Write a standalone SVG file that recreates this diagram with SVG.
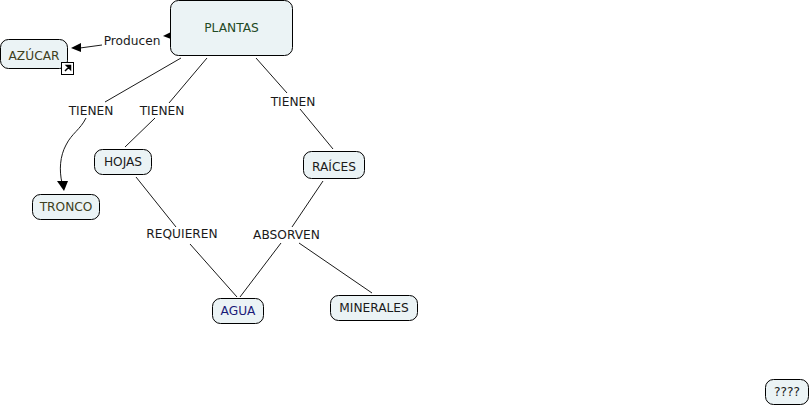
<svg xmlns="http://www.w3.org/2000/svg" width="810" height="407" viewBox="0 0 810 407">
<style>
text{font-family:"DejaVu Sans",Verdana,sans-serif;font-size:12.200px;text-anchor:middle;fill:#1a1a1a}
.n{fill:#ebf3f5;stroke:#000;stroke-width:1}
.c{fill:none;stroke:#1a1a1a;stroke-width:1}
.h{fill:#000;stroke:none}
</style>
<rect width="810" height="407" fill="#fff"/>
<g id="connectors">
<path class="c" d="M181 58L105 102"/>
<path class="c" d="M207 58L169 103"/>
<path class="c" d="M256 58L287 93"/>
<path class="c" d="M86 118C80 130 72 133 66 145C60 156 59 170 62 183"/>
<path class="c" d="M155 118L125 147"/>
<path class="c" d="M136 177L176 227"/>
<path class="c" d="M190 244L237 297"/>
<path class="c" d="M300 109L333 149"/>
<path class="c" d="M323 181L292 227"/>
<path class="c" d="M281 243L240 297"/>
<path class="c" d="M299 243L372 293"/>
<path class="c" d="M102 45L80 48"/>
<polygon class="h" points="71,48 81,43 81,52"/>
<polygon class="h" points="163,36 171,32 171,39"/>
<polygon class="h" points="64,191 57,181 68,181"/>
</g>
<g id="plantas"><rect class="n" x="170.500" y="0.500" width="122" height="55" rx="8"/><text x="231.500" y="32" style="fill:#1f4a24">PLANTAS</text></g>
<g id="azucar"><rect class="n" x="0.500" y="39.500" width="67" height="29" rx="8"/><text x="34" y="60" style="fill:#3d4020">AZÚCAR</text>
<rect x="61.500" y="62.500" width="12" height="12" fill="#fff" stroke="#000"/><path d="M65 71L70 66M66.500 65.500H70.500V69.500Z" stroke="#000" stroke-width="1.500" fill="#000"/></g>
<g id="producen"><text x="132" y="45">Producen</text></g>
<g id="tienen1"><text x="91" y="115">TIENEN</text></g>
<g id="tienen2"><text x="162" y="115">TIENEN</text></g>
<g id="tienen3"><text x="293" y="106">TIENEN</text></g>
<g id="hojas"><rect class="n" x="94.500" y="149.500" width="57" height="25" rx="8"/><text x="123" y="166">HOJAS</text></g>
<g id="raices"><rect class="n" x="303.500" y="151.500" width="61" height="27" rx="8"/><text x="334" y="171">RAÍCES</text></g>
<g id="tronco"><rect class="n" x="32.500" y="194.500" width="67" height="25" rx="8"/><text x="66" y="211" style="fill:#3d4020">TRONCO</text></g>
<g id="requieren"><text x="182" y="238">REQUIEREN</text></g>
<g id="absorven"><text x="286.500" y="239">ABSORVEN</text></g>
<g id="agua"><rect class="n" x="212.500" y="298.500" width="51" height="25" rx="8"/><text x="238" y="315" style="fill:#1a1a78">AGUA</text></g>
<g id="minerales"><rect class="n" x="330.500" y="295.500" width="87" height="25" rx="8"/><text x="374" y="312">MINERALES</text></g>
<g id="q"><rect class="n" x="765.500" y="379.500" width="43" height="25" rx="8"/><text x="787" y="396">????</text></g>
</svg>
